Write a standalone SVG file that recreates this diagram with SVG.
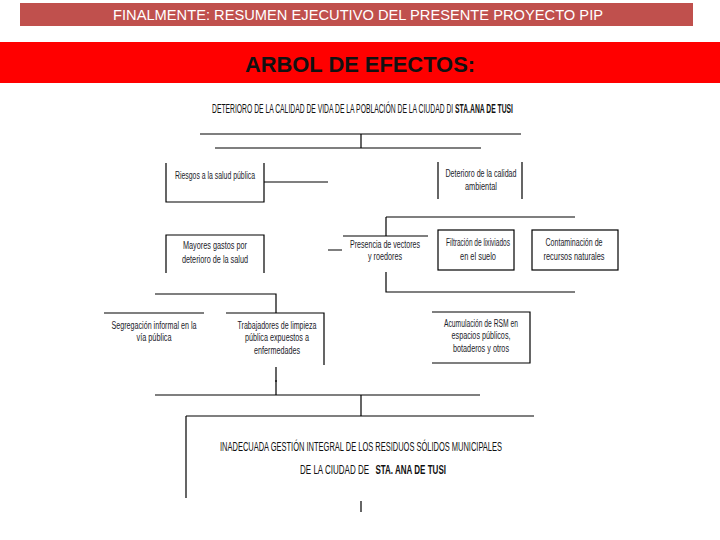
<svg xmlns="http://www.w3.org/2000/svg" width="720" height="540" viewBox="0 0 720 540">
<style>
.ln{stroke:#000;stroke-width:1.2;fill:none}
.t{font-family:"Liberation Sans",sans-serif;font-size:10px;fill:#1b1b2a;text-anchor:middle}
.h{font-family:"Liberation Sans",sans-serif;fill:#111}
</style>
<rect x="0" y="0" width="720" height="540" fill="#fff"/>
<g id="header">
<rect x="20" y="3" width="673" height="23" fill="#C0504D"/>
<text x="358" y="20" font-family="Liberation Sans, sans-serif" font-size="14" fill="#fff" text-anchor="middle" textLength="490" lengthAdjust="spacingAndGlyphs">FINALMENTE:  RESUMEN  EJECUTIVO DEL PRESENTE PROYECTO PIP</text>
</g>
<g id="banner">
<rect x="0" y="42" width="720" height="41" fill="#FF0000"/>
<text x="360" y="72" font-family="Liberation Sans, sans-serif" font-size="22" font-weight="bold" fill="#111" text-anchor="middle" textLength="230" lengthAdjust="spacingAndGlyphs">ARBOL DE EFECTOS:</text>
</g>
<g id="connectors">
<path class="ln" d="M200 134H521M361 134V148M215 148H481"/>
<path class="ln" d="M264 182H328M328 250H342"/>
<path class="ln" d="M386 217H575M386 217V236M386 272V292H575"/>
<path class="ln" d="M155 294H276V313M226 313H324V365M104 313H204M276 367V382"/>
<path class="ln" d="M276 380V395M155 395H480M361 395V416M186 416H534M186 416V498M361 501V512"/>
</g>
<g id="n-title">
<text class="h" x="212" y="113" font-size="12" textLength="301" lengthAdjust="spacingAndGlyphs">DETERIORO DE LA CALIDAD DE VIDA DE LA POBLACIÓN DE LA CIUDAD DI <tspan font-weight="bold">STA.ANA DE TUSI</tspan></text>
</g>
<g id="n-riesgos">
<path class="ln" d="M166 163V202H264V163"/>
<text class="t" x="215" y="179" textLength="80" lengthAdjust="spacingAndGlyphs">Riesgos a la salud pública</text>
</g>
<g id="n-mayores">
<path class="ln" d="M166 273V235H264V273"/>
<text class="t" x="215" y="249" textLength="64" lengthAdjust="spacingAndGlyphs">Mayores gastos por</text>
<text class="t" x="215" y="263" textLength="66" lengthAdjust="spacingAndGlyphs">deterioro de la salud</text>
</g>
<g id="n-ambiental">
<path class="ln" d="M438 162V199M522 162V199"/>
<text class="t" x="481" y="177" textLength="71" lengthAdjust="spacingAndGlyphs">Deterioro de la calidad</text>
<text class="t" x="481" y="190" textLength="32" lengthAdjust="spacingAndGlyphs">ambiental</text>
</g>
<g id="n-presencia">
<path class="ln" d="M343 236H428"/>
<text class="t" x="385" y="248" textLength="70" lengthAdjust="spacingAndGlyphs">Presencia de vectores</text>
<text class="t" x="385" y="260" textLength="34" lengthAdjust="spacingAndGlyphs">y roedores</text>
</g>
<g id="n-filtracion">
<rect class="ln" x="438" y="230" width="76" height="40"/>
<text class="t" x="478" y="246" textLength="64" lengthAdjust="spacingAndGlyphs">Filtración de lixiviados</text>
<text class="t" x="478" y="260" textLength="36" lengthAdjust="spacingAndGlyphs">en el suelo</text>
</g>
<g id="n-contaminacion">
<rect class="ln" x="532" y="230" width="86" height="40"/>
<text class="t" x="574" y="246" textLength="57" lengthAdjust="spacingAndGlyphs">Contaminación de</text>
<text class="t" x="574" y="260" textLength="61" lengthAdjust="spacingAndGlyphs">recursos naturales</text>
</g>
<g id="n-segregacion">
<text class="t" x="154" y="329" textLength="85" lengthAdjust="spacingAndGlyphs">Segregación informal en la</text>
<text class="t" x="154" y="341" textLength="35" lengthAdjust="spacingAndGlyphs">vía pública</text>
</g>
<g id="n-trabajadores">
<text class="t" x="277" y="329" textLength="79" lengthAdjust="spacingAndGlyphs">Trabajadores de limpieza</text>
<text class="t" x="277" y="341" textLength="64" lengthAdjust="spacingAndGlyphs">pública expuestos a</text>
<text class="t" x="277" y="354" textLength="46" lengthAdjust="spacingAndGlyphs">enfermedades</text>
</g>
<g id="n-acumulacion">
<path class="ln" d="M432 312H530V363H432"/>
<text class="t" x="481" y="327" textLength="74" lengthAdjust="spacingAndGlyphs">Acumulación de RSM en</text>
<text class="t" x="481" y="339" textLength="59" lengthAdjust="spacingAndGlyphs">espacios públicos,</text>
<text class="t" x="481" y="352" textLength="56" lengthAdjust="spacingAndGlyphs">botaderos y otros</text>
</g>
<g id="n-problema">
<text class="h" x="220" y="451" font-size="12" textLength="282" lengthAdjust="spacingAndGlyphs">INADECUADA GESTIÓN INTEGRAL DE LOS RESIDUOS SÓLIDOS MUNICIPALES</text>
<text class="h" x="300" y="474" font-size="12" textLength="146" lengthAdjust="spacingAndGlyphs">DE LA CIUDAD DE <tspan dx="6" font-weight="bold">STA. ANA DE TUSI</tspan></text>
</g>
</svg>
